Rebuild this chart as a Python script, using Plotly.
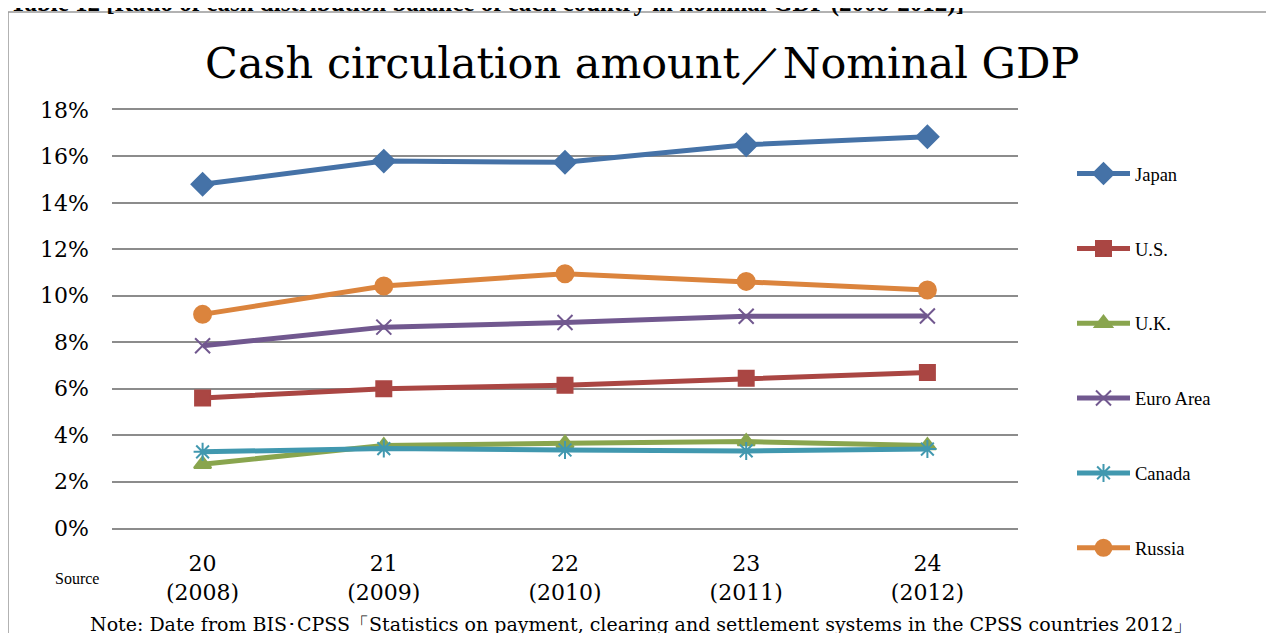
import plotly.graph_objects as go

categories = ["20<br>(2008)", "21<br>(2009)", "22<br>(2010)", "23<br>(2011)", "24<br>(2012)"]
japan = [14.8, 15.8, 15.75, 16.5, 16.85]
us = [5.6, 6.0, 6.15, 6.45, 6.7]
uk = [2.75, 3.55, 3.65, 3.72, 3.55]
euro = [7.85, 8.65, 8.85, 9.12, 9.13]
canada = [3.28, 3.42, 3.36, 3.32, 3.40]
russia = [9.2, 10.42, 10.95, 10.62, 10.25]
y_ticks = [0, 2, 4, 6, 8, 10, 12, 14, 16, 18]

series = [
    ("Japan", japan, "#4572A7", "diamond", 17),
    ("U.S.", us, "#AA4643", "square", 15),
    ("U.K.", uk, "#89A54E", "triangle-up", 15),
    ("Euro Area", euro, "#71588F", "x-thin-open", 15),
    ("Canada", canada, "#4198AF", "asterisk-open", 15),
    ("Russia", russia, "#DB843D", "circle", 17),
]

fig = go.Figure()
for i, (name, vals, color, sym, size) in enumerate(series):
    fig.add_trace(go.Scatter(
        x=list(range(len(categories))), y=vals, name=name, mode="lines+markers",
        line=dict(color=color, width=5),
        marker=dict(symbol=sym, size=size, color=color,
                    line=dict(color=color, width=2)),
        legendgroup=f"g{i}",
    ))

OFF = 8  # browser body margin
W, H = 1274, 633
L = 112 - OFF
T = 110 - OFF
B = H - (528 - OFF)
R = W - (1018 - OFF)
pw, ph = W - L - R, H - T - B


def px(sx):
    return (sx - OFF - L) / pw


def py(sy):
    return (H - B - (sy - OFF)) / ph


serif = "DejaVu Serif"
times = "Liberation Serif"

fig.update_layout(
    width=W, height=H,
    margin=dict(l=L, r=R, t=T, b=B),
    paper_bgcolor="white", plot_bgcolor="white",
    font=dict(family=serif, color="black"),
    showlegend=True,
    legend=dict(x=px(1072), y=py(155), xanchor="left", yanchor="top",
                font=dict(family=times, size=18.5, color="black"),
                tracegroupgap=47.8, itemwidth=53, maxheight=620,
                bgcolor="rgba(0,0,0,0)"),
    xaxis=dict(range=[-0.5, 4.5], tickmode="array",
               tickvals=list(range(len(categories))), ticktext=categories,
               showgrid=False, zeroline=False, showline=True, mirror=True,
               linecolor="#8c8c8c", linewidth=2, ticks="",
               tickfont=dict(family=serif, size=22), ticklabelstandoff=15),
    yaxis=dict(range=[0, 18], tickmode="array", tickvals=y_ticks,
               ticktext=[f"{v}%" for v in y_ticks],
               showgrid=True, gridcolor="#8c8c8c", gridwidth=2,
               zeroline=False, showline=False, ticks="",
               tickfont=dict(family=serif, size=22), ticklabelstandoff=22),
    shapes=[dict(type="rect", xref="paper", yref="paper",
                 x0=px(8), y0=py(660), x1=px(1300), y1=py(12),
                 line=dict(color="#999999", width=1.5), layer="below")],
    annotations=[
        dict(text="Cash circulation amount／Nominal GDP", x=px(642), y=py(63),
             xref="paper", yref="paper", showarrow=False,
             xanchor="center", yanchor="middle",
             font=dict(family=serif, size=43, color="black")),
        dict(text="<b>Table 12 [Ratio of cash distribution balance of each country in nominal GDP (2008-2012)]</b>",
             x=px(8), y=py(19), xref="paper", yref="paper", showarrow=False,
             xanchor="left", yanchor="bottom",
             font=dict(family=times, size=25, color="black")),
        dict(text="Source", x=px(77), y=py(578), xref="paper", yref="paper",
             showarrow=False, xanchor="center", yanchor="middle",
             font=dict(family=times, size=16, color="black")),
        dict(text="Note: Date from BIS･CPSS「Statistics on payment, clearing and settlement systems in the CPSS countries 2012」",
             x=px(88), y=py(624), xref="paper", yref="paper", showarrow=False,
             xanchor="left", yanchor="middle",
             font=dict(family=serif, size=19, color="black")),
    ],
)

fig.write_html("out.html")
